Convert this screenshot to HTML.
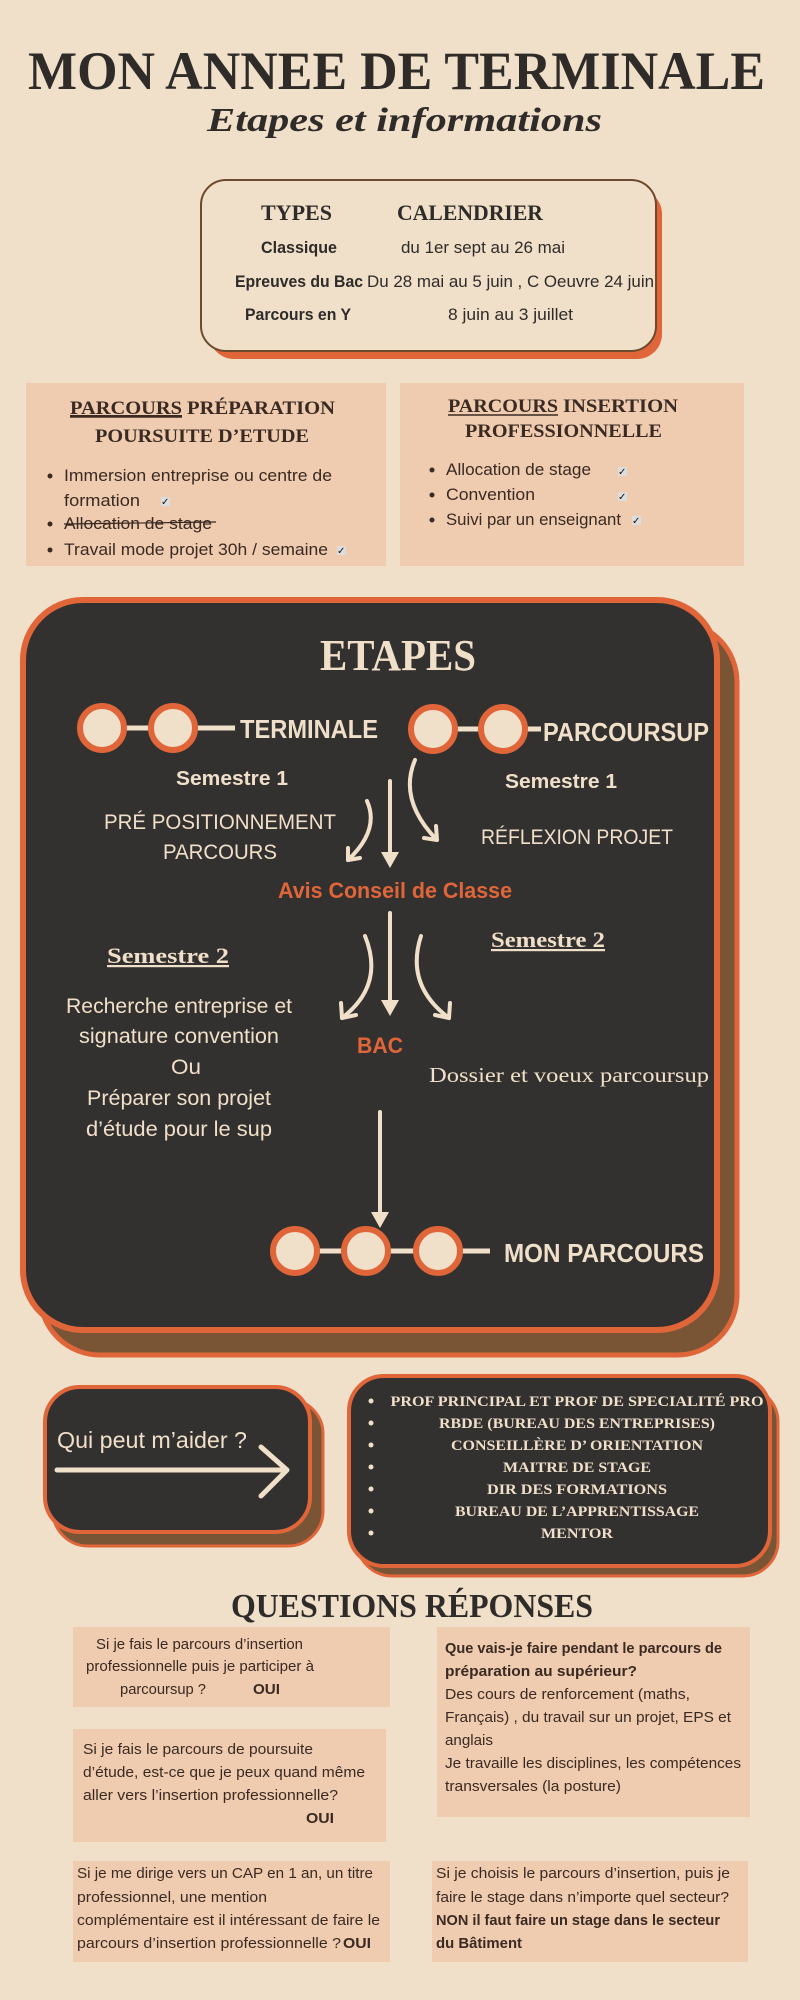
<!DOCTYPE html>
<html><head><meta charset="utf-8"><style>
html,body{margin:0;padding:0;background:#F0DFC9;}
svg{display:block}
.sf{font-family:"Liberation Serif",serif;font-weight:bold}
.ss{font-family:"Liberation Sans",sans-serif}
</style></head><body>
<svg width="800" height="2000" viewBox="0 0 800 2000" xmlns="http://www.w3.org/2000/svg">
<rect width="800" height="2000" fill="#F0DFC9"/>
<!-- Title -->
<text class="sf" x="28" y="89" font-size="54" fill="#2e2b29" textLength="737" lengthAdjust="spacingAndGlyphs">MON ANNEE DE TERMINALE</text>
<text class="sf" x="207" y="131" font-size="34" font-style="italic" fill="#2e2b29" textLength="395" lengthAdjust="spacingAndGlyphs">Etapes et informations</text>

<!-- Calendar box -->
<rect x="209" y="189" width="453" height="170" rx="25" fill="#E0663A"/>
<rect x="201" y="180" width="455" height="171" rx="25" fill="#F0DFC9" stroke="#6b4a2e" stroke-width="2"/>
<g fill="#2e2b29">
<text class="sf" x="261" y="220" font-size="22" textLength="71" lengthAdjust="spacingAndGlyphs">TYPES</text>
<text class="sf" x="397" y="220" font-size="22" textLength="146" lengthAdjust="spacingAndGlyphs">CALENDRIER</text>
<text class="ss" x="261" y="253" font-size="17" font-weight="bold" textLength="76" lengthAdjust="spacingAndGlyphs">Classique</text>
<text class="ss" x="401" y="253" font-size="17" textLength="164" lengthAdjust="spacingAndGlyphs">du 1er sept au 26 mai</text>
<text class="ss" x="235" y="287" font-size="17" font-weight="bold" textLength="128" lengthAdjust="spacingAndGlyphs">Epreuves du Bac</text>
<text class="ss" x="367" y="287" font-size="17" textLength="287" lengthAdjust="spacingAndGlyphs">Du 28 mai au 5 juin , C Oeuvre 24 juin</text>
<text class="ss" x="245" y="320" font-size="17" font-weight="bold" textLength="106" lengthAdjust="spacingAndGlyphs">Parcours en Y</text>
<text class="ss" x="448" y="320" font-size="17" textLength="125" lengthAdjust="spacingAndGlyphs">8 juin au 3 juillet</text>
</g>

<!-- Pink boxes -->
<rect x="26" y="383" width="360" height="183" fill="#EFCBB0"/>
<rect x="400" y="383" width="344" height="183" fill="#EFCBB0"/>
<g fill="#3a2a22">
<text class="sf" x="70" y="414" font-size="19" text-decoration="underline" textLength="112" lengthAdjust="spacingAndGlyphs">PARCOURS</text>
<text class="sf" x="187" y="414" font-size="19" textLength="148" lengthAdjust="spacingAndGlyphs">PRÉPARATION</text>
<line x1="70" y1="417" x2="182" y2="417" stroke="#3a2a22" stroke-width="1.5"/>
<text class="sf" x="95" y="442" font-size="19" textLength="214" lengthAdjust="spacingAndGlyphs">POURSUITE D’ETUDE</text>
<g class="ss" font-size="17">
<circle cx="50" cy="476" r="2.5"/><text x="64" y="481" textLength="268" lengthAdjust="spacingAndGlyphs">Immersion entreprise ou centre de</text>
<text x="64" y="506" textLength="76" lengthAdjust="spacingAndGlyphs">formation</text>
<circle cx="50" cy="524" r="2.5"/><text x="64" y="529" textLength="148" lengthAdjust="spacingAndGlyphs">Allocation de stage</text>
<line x1="64" y1="524" x2="216" y2="522" stroke="#3a2a22" stroke-width="1.2"/>
<circle cx="50" cy="550" r="2.5"/><text x="64" y="555" textLength="264" lengthAdjust="spacingAndGlyphs">Travail mode projet 30h / semaine</text>
</g>
<text class="sf" x="448" y="412" font-size="19" textLength="110" lengthAdjust="spacingAndGlyphs">PARCOURS</text>
<line x1="448" y1="415" x2="558" y2="415" stroke="#3a2a22" stroke-width="1.5"/>
<text class="sf" x="563" y="412" font-size="19" textLength="115" lengthAdjust="spacingAndGlyphs">INSERTION</text>
<text class="sf" x="465" y="437" font-size="19" textLength="197" lengthAdjust="spacingAndGlyphs">PROFESSIONNELLE</text>
<g class="ss" font-size="17">
<circle cx="432" cy="470" r="2.5"/><text x="446" y="475" textLength="145" lengthAdjust="spacingAndGlyphs">Allocation de stage</text>
<circle cx="432" cy="495" r="2.5"/><text x="446" y="500" textLength="89" lengthAdjust="spacingAndGlyphs">Convention</text>
<circle cx="432" cy="520" r="2.5"/><text x="446" y="525" textLength="175" lengthAdjust="spacingAndGlyphs">Suivi par un enseignant</text>
</g>
</g>
<!-- check boxes -->
<g font-family="DejaVu Sans,sans-serif" font-size="10" fill="#111">
<rect x="161" y="497" width="9" height="9" fill="#ddd"/><text x="161" y="505">✓</text>
<rect x="337" y="546" width="9" height="9" fill="#ddd"/><text x="337" y="554">✓</text>
<rect x="618" y="467" width="9" height="9" fill="#ddd"/><text x="618" y="475">✓</text>
<rect x="618" y="492" width="9" height="9" fill="#ddd"/><text x="618" y="500">✓</text>
<rect x="632" y="516" width="9" height="9" fill="#ddd"/><text x="632" y="524">✓</text>
</g>

<!-- Dark ETAPES box -->
<rect x="40" y="622" width="697" height="733" rx="60" fill="#7a5535" stroke="#E0663A" stroke-width="5"/>
<rect x="23" y="600" width="694" height="730" rx="60" fill="#333130" stroke="#E0663A" stroke-width="6"/>
<text class="sf" x="398" y="670" font-size="44" fill="#F0DFC9" text-anchor="middle" textLength="156" lengthAdjust="spacingAndGlyphs">ETAPES</text>
<g stroke="#F0DFC9" stroke-width="5">
<line x1="102" y1="728" x2="235" y2="728"/>
<line x1="433" y1="729" x2="541" y2="729"/>
<line x1="295" y1="1251" x2="490" y2="1251"/>
</g>
<g fill="#F0DFC9" stroke="#E0663A" stroke-width="6">
<circle cx="102" cy="728" r="22"/><circle cx="173" cy="728" r="22"/>
<circle cx="433" cy="729" r="22"/><circle cx="503" cy="729" r="22"/>
<circle cx="295" cy="1251" r="22"/><circle cx="366" cy="1251" r="22"/><circle cx="438" cy="1251" r="22"/>
</g>
<g class="ss" font-weight="bold" fill="#F0DFC9">
<text x="240" y="738" font-size="26" textLength="138" lengthAdjust="spacingAndGlyphs">TERMINALE</text>
<text x="543" y="741" font-size="26" textLength="166" lengthAdjust="spacingAndGlyphs">PARCOURSUP</text>
<text x="504" y="1262" font-size="26" textLength="200" lengthAdjust="spacingAndGlyphs">MON PARCOURS</text>
<text x="232" y="785" font-size="20" text-anchor="middle" textLength="112" lengthAdjust="spacingAndGlyphs">Semestre 1</text>
<text x="561" y="788" font-size="20" text-anchor="middle" textLength="112" lengthAdjust="spacingAndGlyphs">Semestre 1</text>
</g>
<g class="ss" fill="#F0DFC9" font-size="21" text-anchor="middle">
<text x="220" y="829" textLength="232" lengthAdjust="spacingAndGlyphs">PRÉ POSITIONNEMENT</text>
<text x="220" y="859" textLength="114" lengthAdjust="spacingAndGlyphs">PARCOURS</text>
<text x="577" y="844" textLength="192" lengthAdjust="spacingAndGlyphs">RÉFLEXION PROJET</text>
<text x="179" y="1013" textLength="226" lengthAdjust="spacingAndGlyphs">Recherche entreprise et</text>
<text x="179" y="1043" textLength="200" lengthAdjust="spacingAndGlyphs">signature convention</text>
<text x="186" y="1074" textLength="30" lengthAdjust="spacingAndGlyphs">Ou</text>
<text x="179" y="1105" textLength="184" lengthAdjust="spacingAndGlyphs">Préparer son projet</text>
<text x="179" y="1136" textLength="186" lengthAdjust="spacingAndGlyphs">d’étude pour le sup</text>
</g>
<g class="ss" font-weight="bold" fill="#E0663A" text-anchor="middle">
<text x="395" y="898" font-size="22" textLength="234" lengthAdjust="spacingAndGlyphs">Avis Conseil de  Classe</text>
<text x="380" y="1053" font-size="22" textLength="46" lengthAdjust="spacingAndGlyphs">BAC</text>
</g>
<g class="sf" fill="#F0DFC9" font-size="22" text-anchor="middle" text-decoration="underline">
<text x="168" y="963" textLength="122" lengthAdjust="spacingAndGlyphs">Semestre 2</text>
<text x="548" y="947" textLength="114" lengthAdjust="spacingAndGlyphs">Semestre 2</text>
</g>
<text x="569" y="1082" font-family="Liberation Serif,serif" font-size="21" fill="#F0DFC9" text-anchor="middle" textLength="280" lengthAdjust="spacingAndGlyphs">Dossier et voeux parcoursup</text>
<!-- arrows -->
<g stroke="#F0DFC9" stroke-width="4" fill="none" stroke-linecap="round" stroke-linejoin="round">
<line x1="390" y1="781" x2="390" y2="855"/>
<line x1="390" y1="913" x2="390" y2="1003"/>
<line x1="380" y1="1112" x2="380" y2="1215"/>
<path d="M367 801 Q380 830 348 860"/><path d="M348 848 L348 860 L360 858"/>
<path d="M415 760 Q398 800 437 840"/><path d="M424 838 L437 840 L436 826"/>
<path d="M365 936 Q385 985 342 1018"/><path d="M341 1003 L342 1018 L356 1015"/>
<path d="M421 936 Q405 985 449 1018"/><path d="M435 1015 L449 1018 L450 1003"/>
</g>
<g fill="#F0DFC9">
<polygon points="381,852 399,852 390,868"/>
<polygon points="381,1000 399,1000 390,1016"/>
<polygon points="371,1212 389,1212 380,1228"/>
</g>

<!-- Qui peut m'aider -->
<rect x="53" y="1399" width="270" height="147" rx="35" fill="#7a5535" stroke="#E0663A" stroke-width="3"/>
<rect x="45" y="1387" width="265" height="145" rx="35" fill="#333130" stroke="#E0663A" stroke-width="4"/>
<text class="ss" x="57" y="1448" font-size="23" fill="#F0DFC9" textLength="190" lengthAdjust="spacingAndGlyphs">Qui peut m’aider ?</text>
<g stroke="#F0DFC9" stroke-width="5" fill="none" stroke-linecap="round" stroke-linejoin="round">
<line x1="57" y1="1470" x2="286" y2="1470"/>
<path d="M261 1447 L287 1470 L261 1496"/>
</g>

<!-- helpers box -->
<rect x="357" y="1387" width="421" height="189" rx="35" fill="#7a5535" stroke="#E0663A" stroke-width="3"/>
<rect x="349" y="1376" width="421" height="190" rx="35" fill="#333130" stroke="#E0663A" stroke-width="4"/>
<g fill="#F0DFC9">
<circle cx="371" cy="1401" r="2.5"/><circle cx="371" cy="1423" r="2.5"/><circle cx="371" cy="1445" r="2.5"/>
<circle cx="371" cy="1467" r="2.5"/><circle cx="371" cy="1489" r="2.5"/><circle cx="371" cy="1511" r="2.5"/><circle cx="371" cy="1533" r="2.5"/>
</g>
<g class="sf" fill="#F0DFC9" font-size="15" text-anchor="middle">
<text x="577" y="1406" textLength="373" lengthAdjust="spacingAndGlyphs">PROF PRINCIPAL ET PROF DE SPECIALITÉ PRO</text>
<text x="577" y="1428" textLength="276" lengthAdjust="spacingAndGlyphs">RBDE (BUREAU DES ENTREPRISES)</text>
<text x="577" y="1450" textLength="252" lengthAdjust="spacingAndGlyphs">CONSEILLÈRE D’ ORIENTATION</text>
<text x="577" y="1472" textLength="148" lengthAdjust="spacingAndGlyphs">MAITRE DE STAGE</text>
<text x="577" y="1494" textLength="180" lengthAdjust="spacingAndGlyphs">DIR DES FORMATIONS</text>
<text x="577" y="1516" textLength="244" lengthAdjust="spacingAndGlyphs">BUREAU DE L’APPRENTISSAGE</text>
<text x="577" y="1538" textLength="72" lengthAdjust="spacingAndGlyphs">MENTOR</text>
</g>

<!-- Questions -->
<text class="sf" x="231" y="1617" font-size="34" fill="#2e2b29" textLength="362" lengthAdjust="spacingAndGlyphs">QUESTIONS RÉPONSES</text>
<g fill="#EFCBB0">
<rect x="73" y="1627" width="317" height="80"/>
<rect x="73" y="1729" width="313" height="113"/>
<rect x="73" y="1861" width="317" height="101"/>
<rect x="437" y="1627" width="313" height="190"/>
<rect x="432" y="1861" width="316" height="101"/>
</g>
<g class="ss" font-size="15" fill="#3a2a22">
<text x="96" y="1649" textLength="207" lengthAdjust="spacingAndGlyphs">Si je fais le parcours d’insertion</text>
<text x="86" y="1671" textLength="228" lengthAdjust="spacingAndGlyphs">professionnelle puis je participer à</text>
<text x="120" y="1694" textLength="86" lengthAdjust="spacingAndGlyphs">parcoursup ?</text>
<text x="253" y="1694" font-weight="bold" textLength="27" lengthAdjust="spacingAndGlyphs">OUI</text>

<text x="83" y="1754" textLength="230" lengthAdjust="spacingAndGlyphs">Si je fais le parcours de poursuite</text>
<text x="83" y="1777" textLength="282" lengthAdjust="spacingAndGlyphs">d’étude, est-ce que je peux quand même</text>
<text x="83" y="1800" textLength="255" lengthAdjust="spacingAndGlyphs">aller vers l’insertion professionnelle?</text>
<text x="306" y="1823" font-weight="bold" textLength="28" lengthAdjust="spacingAndGlyphs">OUI</text>

<text x="77" y="1878" textLength="296" lengthAdjust="spacingAndGlyphs">Si je me dirige vers un CAP en 1 an, un titre</text>
<text x="77" y="1902" textLength="190" lengthAdjust="spacingAndGlyphs">professionnel, une mention</text>
<text x="77" y="1925" textLength="303" lengthAdjust="spacingAndGlyphs">complémentaire est il intéressant de faire le</text>
<text x="77" y="1948" textLength="264" lengthAdjust="spacingAndGlyphs">parcours d’insertion professionnelle ?</text>
<text x="343" y="1948" font-weight="bold" textLength="28" lengthAdjust="spacingAndGlyphs">OUI</text>

<text x="445" y="1653" font-weight="bold" textLength="277" lengthAdjust="spacingAndGlyphs">Que vais-je faire pendant le parcours de</text>
<text x="445" y="1676" font-weight="bold" textLength="192" lengthAdjust="spacingAndGlyphs">préparation au supérieur?</text>
<text x="445" y="1699" textLength="245" lengthAdjust="spacingAndGlyphs">Des cours de renforcement (maths,</text>
<text x="445" y="1722" textLength="286" lengthAdjust="spacingAndGlyphs">Français) , du travail sur un projet, EPS et</text>
<text x="445" y="1745" textLength="48" lengthAdjust="spacingAndGlyphs">anglais</text>
<text x="445" y="1768" textLength="296" lengthAdjust="spacingAndGlyphs">Je travaille les disciplines, les compétences</text>
<text x="445" y="1791" textLength="176" lengthAdjust="spacingAndGlyphs">transversales (la posture)</text>

<text x="436" y="1878" textLength="294" lengthAdjust="spacingAndGlyphs">Si je choisis le parcours d’insertion, puis je</text>
<text x="436" y="1902" textLength="293" lengthAdjust="spacingAndGlyphs">faire le stage dans n’importe quel secteur?</text>
<text x="436" y="1925" font-weight="bold" textLength="284" lengthAdjust="spacingAndGlyphs">NON il faut faire un stage dans le secteur</text>
<text x="436" y="1948" font-weight="bold" textLength="86" lengthAdjust="spacingAndGlyphs">du Bâtiment</text>
</g>
</svg>
</body></html>
